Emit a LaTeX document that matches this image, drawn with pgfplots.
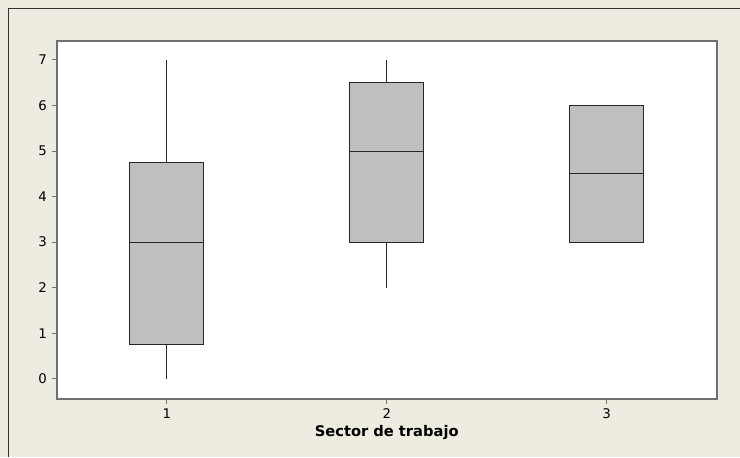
\documentclass[border=0pt]{standalone}
\usepackage{fontspec}
\setmainfont{DejaVu Sans}
\usepackage{pgfplots}
\pgfplotsset{compat=1.18}
\usepgfplotslibrary{statistics}
\definecolor{bg}{HTML}{EEEBE1}
\definecolor{boxg}{HTML}{BFBFBF}
\definecolor{axg}{HTML}{707070}
\begin{document}
\begin{tikzpicture}
\fill[bg] (0,0) rectangle (555pt,342.75pt);
\draw[color=black!80, line width=0.75pt] (6.75pt,0) -- (6.75pt,336pt) -- (555pt,336pt);
\begin{axis}[
  at={(42.75pt,43.5pt)}, anchor=south west, scale only axis,
  width=495pt, height=268.5pt,
  xmin=0.5, xmax=3.5, ymin=-0.439, ymax=7.417,
  xtick={1,2,3}, ytick={0,1,2,3,4,5,6,7},
  tick align=outside, tick pos=left, major tick length=4pt,
  axis line style={axg, line width=1.5pt},
  tick style={axg, line width=0.75pt},
  axis background/.style={fill=white},
  xlabel={Sector de trabajo},
  xlabel style={font=\fontsize{11}{13}\selectfont\bfseries, yshift=2pt},
  ticklabel style={font=\fontsize{10}{12}\selectfont},
  /pgf/number format/assume math mode=true,
  boxplot/draw direction=y,
]
\addplot[draw=black!85, fill=boxg, line width=0.75pt,
  boxplot prepared={draw position=1, lower whisker=0, lower quartile=0.75,
    median=3, upper quartile=4.75, upper whisker=7, box extend=0.336, whisker extend=0}]
  coordinates {};
\addplot[draw=black!85, fill=boxg, line width=0.75pt,
  boxplot prepared={draw position=2, lower whisker=2, lower quartile=3,
    median=5, upper quartile=6.5, upper whisker=7, box extend=0.336, whisker extend=0}]
  coordinates {};
\addplot[draw=black!85, fill=boxg, line width=0.75pt,
  boxplot prepared={draw position=3, lower whisker=3, lower quartile=3,
    median=4.5, upper quartile=6, upper whisker=6, box extend=0.336, whisker extend=0}]
  coordinates {};
\end{axis}
\end{tikzpicture}
\end{document}
